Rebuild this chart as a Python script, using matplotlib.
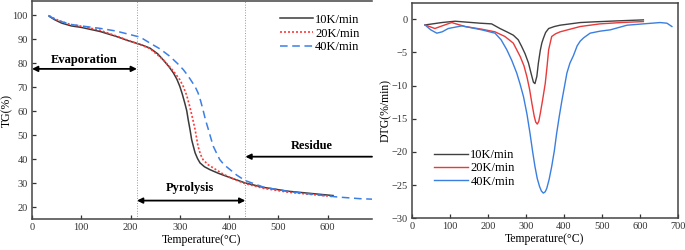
import numpy as np
import matplotlib.pyplot as plt

plt.rcParams['font.family'] = ['Liberation Serif', 'DejaVu Serif']
plt.rcParams['font.size'] = 8.5

# TG curves (temperature in C, mass in %)
tg10_t = [35, 45, 60, 80, 100, 138, 170, 199, 220, 239, 255, 266, 278, 287, 294, 300, 305, 310, 314, 317, 321, 324, 328, 331, 336, 341, 350, 361, 378, 395, 432, 470, 520, 570, 611]
tg10_v = [99.6, 98.3, 96.8, 95.6, 95.0, 93.3, 91.3, 89.2, 87.9, 86.4, 84.0, 81.5, 78.6, 76.0, 73.4, 70.4, 67.2, 63.5, 60.3, 56.5, 52.0, 48.2, 45.0, 42.7, 40.3, 38.5, 36.9, 35.7, 34.2, 32.9, 30.2, 28.3, 26.7, 25.7, 24.9]
tg20_t = [35, 45, 60, 80, 100, 138, 170, 199, 220, 239, 266, 287, 300, 307, 314, 320, 326, 331, 337, 342, 347, 357, 368, 385, 400, 432, 470, 520, 570, 611]
tg20_v = [99.8, 98.7, 97.4, 96.1, 95.5, 93.8, 91.5, 89.3, 87.8, 86.2, 81.6, 76.8, 73.2, 70.4, 66.6, 62.1, 57.0, 52.4, 45.4, 42.0, 39.9, 37.8, 36.4, 34.2, 32.6, 29.9, 27.9, 26.3, 25.3, 24.5]
tg40_t = [33, 45, 60, 80, 100, 138, 170, 199, 220, 239, 260, 280, 295, 307, 316, 324, 331, 337, 342, 347, 352, 358, 363, 368, 375, 381, 390, 402, 415, 432, 470, 520, 570, 620, 665, 690]
tg40_v = [100.0, 98.6, 97.4, 96.2, 95.6, 94.6, 93.5, 92.0, 90.9, 88.5, 86.0, 82.9, 80.0, 77.4, 75.0, 72.5, 70.3, 67.7, 64.5, 60.7, 56.5, 52.4, 48.8, 45.4, 42.4, 39.9, 37.7, 35.7, 33.5, 31.2, 28.4, 26.6, 25.4, 24.3, 23.6, 23.4]

# DTG curves (%/min)
dtg10_t = [35, 55, 79, 114, 158, 180, 210, 232, 250, 267, 280, 289, 298, 307, 314, 320, 324, 329, 333, 338, 342, 346, 352, 360, 375, 390, 443, 478, 540, 609]
dtg10_v = [-0.86, -0.7, -0.5, -0.3, -0.5, -0.6, -0.7, -1.4, -1.9, -2.4, -3.1, -4.1, -5.2, -6.6, -8.2, -9.5, -9.7, -8.6, -6.6, -4.7, -3.6, -2.9, -2.0, -1.4, -1.1, -0.9, -0.5, -0.4, -0.25, -0.1]
dtg20_t = [35, 61, 80, 105, 140, 184, 219, 245, 267, 285, 295, 303, 310, 316, 322, 326, 330, 334, 338, 344, 351, 356, 360, 368, 378, 390, 443, 495, 550, 609]
dtg20_v = [-0.86, -1.4, -1.0, -0.5, -1.1, -1.5, -1.9, -2.6, -3.6, -5.6, -7.0, -8.7, -10.6, -12.7, -14.6, -15.5, -15.8, -15.4, -14.2, -12.2, -9.7, -7.0, -4.6, -2.6, -2.2, -1.9, -1.1, -0.7, -0.5, -0.35]
dtg40_t = [35, 50, 66, 80, 96, 132, 184, 219, 235, 250, 263, 276, 285, 294, 303, 311, 318, 324, 330, 336, 341, 346, 351, 355, 361, 368, 375, 381, 388, 395, 402, 408, 416, 425, 435, 443, 452, 469, 495, 522, 566, 609, 653, 671, 684]
dtg40_v = [-0.86, -1.6, -2.1, -1.9, -1.4, -1.0, -1.6, -2.1, -3.1, -4.6, -6.2, -8.1, -9.8, -11.7, -14.3, -17.2, -20.0, -22.2, -24.0, -25.2, -25.9, -26.2, -26.0, -25.5, -24.2, -22.2, -19.8, -17.2, -14.6, -12.2, -10.0, -8.1, -6.6, -5.5, -4.0, -3.3, -2.8, -2.1, -1.8, -1.6, -0.9, -0.7, -0.5, -0.6, -1.1]

labels = ['10K/min', '20K/min', '40K/min']

fig = plt.figure(figsize=(6.85, 2.5), dpi=100)
W, H = 685, 250

# left axes
ax1 = fig.add_axes([32/W, 1-219.3/H, 340/W, 218.3/H])
ax1.plot(tg10_t, tg10_v, color='#3a3a3a', lw=1.1, label=labels[0])
ax1.plot(tg20_t, tg20_v, color='#ff3b3b', lw=1.2, ls=(0, (1.2, 1.2)), label=labels[1])
ax1.plot(tg40_t, tg40_v, color='#3a7fe8', lw=1.1, ls=(0, (5, 3)), label=labels[2])
ax1.set_xlim(0, 690)
ax1.set_ylim(15, 106)
ax1.set_xticks(range(0, 700, 100))
ax1.set_yticks(range(20, 101, 10))
ax1.set_xlabel('Temperature(°C)', labelpad=1)
ax1.set_ylabel('TG(%)')
ax1.yaxis.set_label_coords(-0.055, 0.5)
ax1.axvline(213, color='#999999', lw=0.7, ls=':')
ax1.axvline(433, color='#999999', lw=0.7, ls=':')
ax1.spines['right'].set_visible(False)
arrow = dict(arrowstyle='<|-|>', color='black', lw=1.3, mutation_scale=8, shrinkA=0, shrinkB=0)
ax1.annotate('', xy=(0, 77.7), xytext=(213, 77.7), arrowprops=arrow)
ax1.annotate('', xy=(213, 22.8), xytext=(433, 22.8), arrowprops=arrow)
ax1.annotate('', xy=(433, 41.1), xytext=(690, 41.1),
             arrowprops=dict(arrowstyle='-|>', color='black', lw=1.3, mutation_scale=8, shrinkA=0, shrinkB=0))
ax1.text(105, 81.3, 'Evaporation', fontweight='bold', fontsize=9, ha='center', va='center')
ax1.text(320, 27.9, 'Pyrolysis', fontweight='bold', fontsize=9, ha='center', va='center')
ax1.text(567, 45.5, 'Residue', fontweight='bold', fontsize=9, ha='center', va='center')
ax1.legend(loc='upper left', bbox_to_anchor=(0.715, 0.965), frameon=False, fontsize=9,
           handlelength=2.6, handletextpad=0.2, labelspacing=0.15, borderaxespad=0)

# right axes
ax2 = fig.add_axes([411.7/W, 1-218.3/H, 266.3/W, 215/H])
ax2.plot(dtg10_t, dtg10_v, color='#404040', lw=1.0, label=labels[0])
ax2.plot(dtg20_t, dtg20_v, color='#e83a3a', lw=1.0, label=labels[1])
ax2.plot(dtg40_t, dtg40_v, color='#3a7fe0', lw=1.0, label=labels[2])
ax2.set_xlim(0, 700)
ax2.set_ylim(-30, 2.4)
ax2.set_xticks(range(0, 701, 100))
ax2.set_yticks(range(-30, 1, 5))
ax2.set_xlabel('Temperature(°C)', labelpad=1)
ax2.set_ylabel('DTG(%/min)')
ax2.yaxis.set_label_coords(-0.074, 0.5)
ax2.legend(loc='lower left', bbox_to_anchor=(0.065, 0.12), frameon=False, fontsize=9,
           handlelength=2.7, handletextpad=0.2, labelspacing=0.1, borderaxespad=0)

for ax in (ax1, ax2):
    ax.tick_params(direction='in', length=3, width=0.9, labelsize=7.5, colors='#333333', pad=3)
    for s in ax.spines.values():
        s.set_color('#444444')
        s.set_linewidth(1.1)

fig.savefig('out.png', dpi=100)
